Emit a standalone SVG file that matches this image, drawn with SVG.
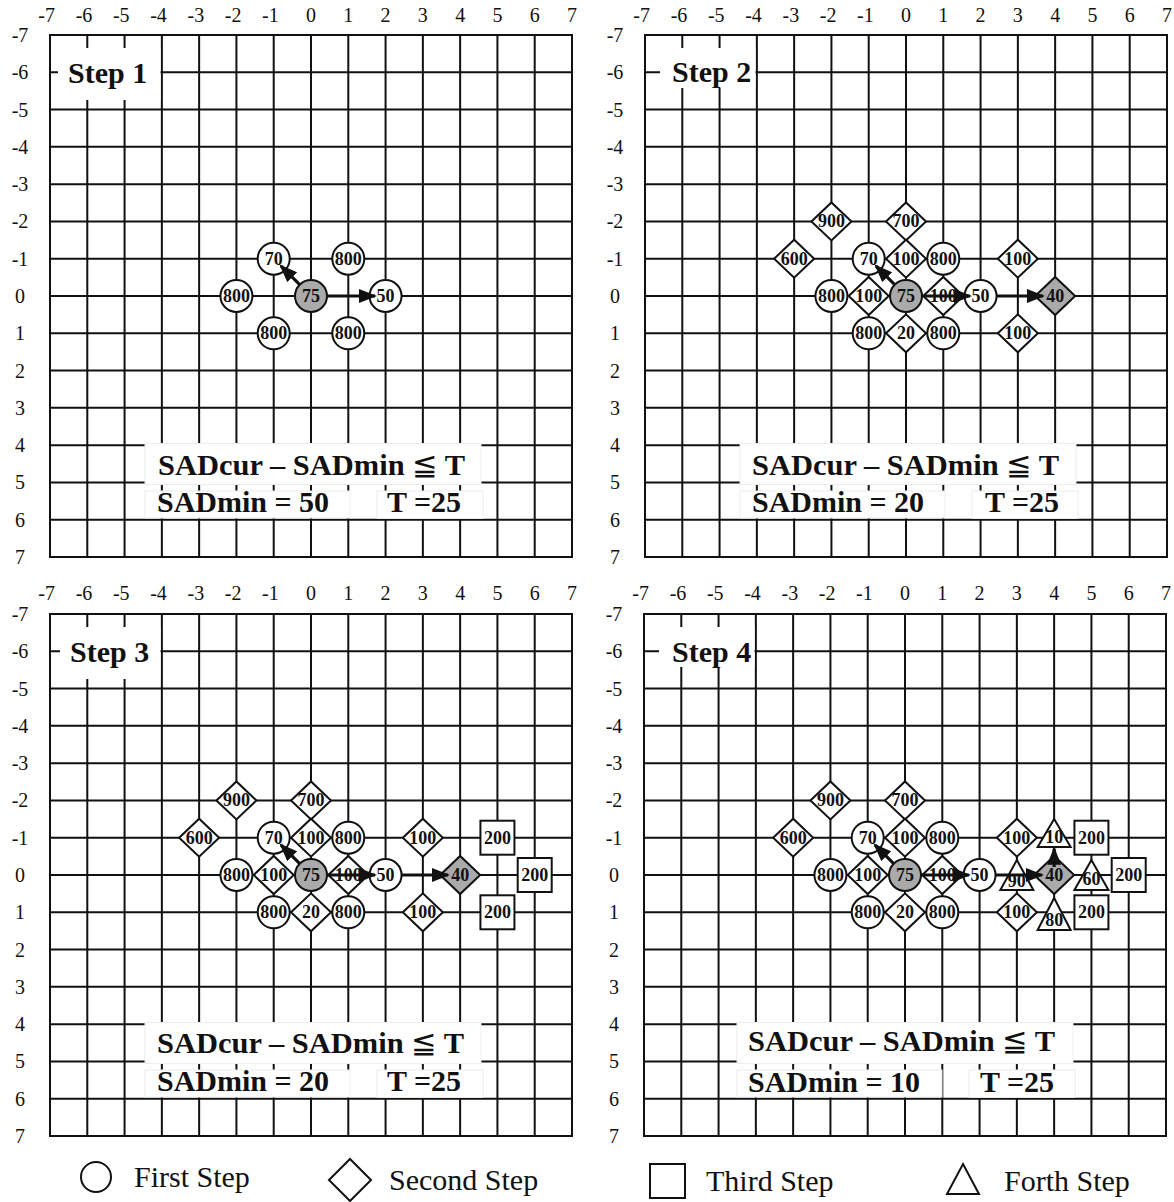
<svg xmlns="http://www.w3.org/2000/svg" xmlns:xlink="http://www.w3.org/1999/xlink" width="1174" height="1202" viewBox="0 0 1174 1202">
<style>
.gl{fill:none;stroke:#111;stroke-width:2}
.wb{fill:#fff;stroke:#ececec;stroke-width:1}
.wn{fill:#fff}
.ax{font-family:"Liberation Serif","Times New Roman",serif;font-size:20px;fill:#111}
.nd{fill:#fff;stroke:#111;stroke-width:2}
.gr{fill:#aaa}
.nt{font-family:"Liberation Serif","Times New Roman",serif;font-weight:bold;font-size:18px;text-anchor:middle;fill:#111}
.st{font-family:"Liberation Serif","Times New Roman",serif;font-weight:bold;font-size:30px;fill:#111}
.fm{font-family:"Liberation Serif","Times New Roman","DejaVu Serif",serif;font-weight:bold;font-size:30px;fill:#111}
.le{font-weight:normal}
.lg{font-family:"Liberation Serif","Times New Roman",serif;font-size:30px;fill:#111}
.ar{fill:none;stroke:#111;stroke-width:3.2;marker-end:url(#ah)}
</style>
<defs>
<marker id="ah" markerUnits="userSpaceOnUse" markerWidth="19" markerHeight="14" viewBox="0 0 19 14" refX="16" refY="7" orient="auto"><path d="M0,0L18,7L0,14Z" fill="#111"/></marker>
<g id="grid">
<rect class="gl" x="-261" y="-261" width="522" height="522"/>
<path class="gl" d="M-223.71-261V261M-186.43-261V261M-149.14-261V261M-111.86-261V261M-74.57-261V261M-37.29-261V261M0-261V261M37.29-261V261M74.57-261V261M111.86-261V261M149.14-261V261M186.43-261V261M223.71-261V261M-261-223.71H261M-261-186.43H261M-261-149.14H261M-261-111.86H261M-261-74.57H261M-261-37.29H261M-261 0H261M-261 37.29H261M-261 74.57H261M-261 111.86H261M-261 149.14H261M-261 186.43H261M-261 223.71H261"/>
</g>
</defs>
<rect width="1174" height="1202" fill="#fff"/>

<!-- Panel 1 -->
<g id="panel1" transform="translate(311,296)">
<use href="#grid" xlink:href="#grid"/>
<text class="ax" text-anchor="end" y="-274"><tspan x="-256">-7</tspan><tspan x="-218.71">-6</tspan><tspan x="-181.43">-5</tspan><tspan x="-144.14">-4</tspan><tspan x="-106.86">-3</tspan><tspan x="-69.57">-2</tspan><tspan x="-32.29">-1</tspan><tspan x="5">0</tspan><tspan x="42.29">1</tspan><tspan x="79.57">2</tspan><tspan x="116.86">3</tspan><tspan x="154.14">4</tspan><tspan x="191.43">5</tspan><tspan x="228.71">6</tspan><tspan x="266">7</tspan></text>
<text class="ax" text-anchor="middle"><tspan x="-291" y="-254">-7</tspan><tspan x="-291" y="-216.71">-6</tspan><tspan x="-291" y="-179.43">-5</tspan><tspan x="-291" y="-142.14">-4</tspan><tspan x="-291" y="-104.86">-3</tspan><tspan x="-291" y="-67.57">-2</tspan><tspan x="-291" y="-30.29">-1</tspan><tspan x="-291" y="7">0</tspan><tspan x="-291" y="44.29">1</tspan><tspan x="-291" y="81.57">2</tspan><tspan x="-291" y="118.86">3</tspan><tspan x="-291" y="156.14">4</tspan><tspan x="-291" y="193.43">5</tspan><tspan x="-291" y="230.71">6</tspan><tspan x="-291" y="268">7</tspan></text>
<g id="p1-title"><rect class="wn" x="-253" y="-248" width="102.5" height="52"/><text class="st" x="-243" y="-213">Step 1</text></g>
<g id="p1-formula">
<rect class="wb" x="-166" y="147.5" width="336" height="41"/>
<rect class="wb" x="-166" y="195" width="205" height="27"/>
<rect class="wb" x="66" y="195" width="106" height="27.5"/>
<text class="fm" x="-153" y="179" textLength="307" lengthAdjust="spacingAndGlyphs">SADcur – SADmin <tspan class="le">≦</tspan> T</text>
<text class="fm" x="-154" y="216">SADmin = 50</text>
<text class="fm" x="76" y="216">T =25</text>
</g>
<g id="p1-n_m1_m1" transform="translate(-37.29,-37.29)"><circle class="nd" r="16"/><text class="nt" y="6">70</text></g>
<g id="p1-n_1_m1" transform="translate(37.29,-37.29)"><circle class="nd" r="16"/><text class="nt" y="6">800</text></g>
<g id="p1-n_m2_0" transform="translate(-74.57,0)"><circle class="nd" r="16"/><text class="nt" y="6">800</text></g>
<g id="p1-n_0_0"><circle class="nd gr" r="16"/><text class="nt" y="6">75</text></g>
<g id="p1-n_2_0" transform="translate(74.57,0)"><circle class="nd" r="16"/><text class="nt" y="6">50</text></g>
<g id="p1-n_m1_1" transform="translate(-37.29,37.29)"><circle class="nd" r="16"/><text class="nt" y="6">800</text></g>
<g id="p1-n_1_1" transform="translate(37.29,37.29)"><circle class="nd" r="16"/><text class="nt" y="6">800</text></g>
</g>

<!-- Panel 2 -->
<g id="panel2" transform="translate(906,296)">
<use href="#grid" xlink:href="#grid"/>
<text class="ax" text-anchor="end" y="-274"><tspan x="-256">-7</tspan><tspan x="-218.71">-6</tspan><tspan x="-181.43">-5</tspan><tspan x="-144.14">-4</tspan><tspan x="-106.86">-3</tspan><tspan x="-69.57">-2</tspan><tspan x="-32.29">-1</tspan><tspan x="5">0</tspan><tspan x="42.29">1</tspan><tspan x="79.57">2</tspan><tspan x="116.86">3</tspan><tspan x="154.14">4</tspan><tspan x="191.43">5</tspan><tspan x="228.71">6</tspan><tspan x="266">7</tspan></text>
<text class="ax" text-anchor="middle"><tspan x="-291" y="-254">-7</tspan><tspan x="-291" y="-216.71">-6</tspan><tspan x="-291" y="-179.43">-5</tspan><tspan x="-291" y="-142.14">-4</tspan><tspan x="-291" y="-104.86">-3</tspan><tspan x="-291" y="-67.57">-2</tspan><tspan x="-291" y="-30.29">-1</tspan><tspan x="-291" y="7">0</tspan><tspan x="-291" y="44.29">1</tspan><tspan x="-291" y="81.57">2</tspan><tspan x="-291" y="118.86">3</tspan><tspan x="-291" y="156.14">4</tspan><tspan x="-291" y="193.43">5</tspan><tspan x="-291" y="230.71">6</tspan><tspan x="-291" y="268">7</tspan></text>
<g id="p2-title"><rect class="wn" x="-246" y="-248" width="95.5" height="40"/><text class="st" x="-234" y="-214">Step 2</text></g>
<g id="p2-formula">
<rect class="wb" x="-166" y="147.5" width="336" height="41"/>
<rect class="wb" x="-166" y="195" width="205" height="27"/>
<rect class="wb" x="66" y="195" width="106" height="27.5"/>
<text class="fm" x="-154" y="179" textLength="307" lengthAdjust="spacingAndGlyphs">SADcur – SADmin <tspan class="le">≦</tspan> T</text>
<text class="fm" x="-154" y="216">SADmin = 20</text>
<text class="fm" x="79" y="216">T =25</text>
</g>
<g id="p2-n_m2_m2" transform="translate(-74.57,-74.57)"><polygon class="nd" points="-20,0 0,-19 20,0 0,19"/><text class="nt" y="6">900</text></g>
<g id="p2-n_0_m2" transform="translate(0,-74.57)"><polygon class="nd" points="-20,0 0,-19 20,0 0,19"/><text class="nt" y="6">700</text></g>
<g id="p2-n_m3_m1" transform="translate(-111.86,-37.29)"><polygon class="nd" points="-20,0 0,-19 20,0 0,19"/><text class="nt" y="6">600</text></g>
<g id="p2-n_0_m1" transform="translate(0,-37.29)"><polygon class="nd" points="-20,0 0,-19 20,0 0,19"/><text class="nt" y="6">100</text></g>
<g id="p2-n_m1_0" transform="translate(-37.29,0)"><polygon class="nd" points="-20,0 0,-19 20,0 0,19"/><text class="nt" y="6">100</text></g>
<g id="p2-n_1_0" transform="translate(37.29,0)"><polygon class="nd" points="-20,0 0,-19 20,0 0,19"/><text class="nt" y="6">100</text></g>
<g id="p2-n_0_1" transform="translate(0,37.29)"><polygon class="nd" points="-20,0 0,-19 20,0 0,19"/><text class="nt" y="6">20</text></g>
<g id="p2-n_3_m1" transform="translate(111.86,-37.29)"><polygon class="nd" points="-20,0 0,-19 20,0 0,19"/><text class="nt" y="6">100</text></g>
<g id="p2-n_3_1" transform="translate(111.86,37.29)"><polygon class="nd" points="-20,0 0,-19 20,0 0,19"/><text class="nt" y="6">100</text></g>
<g id="p2-n_4_0" transform="translate(149.14,0)"><polygon class="nd gr" points="-20,0 0,-19 20,0 0,19"/><text class="nt" y="6">40</text></g>
<g id="p2-n_m1_m1" transform="translate(-37.29,-37.29)"><circle class="nd" r="16"/><text class="nt" y="6">70</text></g>
<g id="p2-n_1_m1" transform="translate(37.29,-37.29)"><circle class="nd" r="16"/><text class="nt" y="6">800</text></g>
<g id="p2-n_m2_0" transform="translate(-74.57,0)"><circle class="nd" r="16"/><text class="nt" y="6">800</text></g>
<g id="p2-n_0_0"><circle class="nd gr" r="16"/><text class="nt" y="6">75</text></g>
<g id="p2-n_2_0" transform="translate(74.57,0)"><circle class="nd" r="16"/><text class="nt" y="6">50</text></g>
<g id="p2-n_m1_1" transform="translate(-37.29,37.29)"><circle class="nd" r="16"/><text class="nt" y="6">800</text></g>
<g id="p2-n_1_1" transform="translate(37.29,37.29)"><circle class="nd" r="16"/><text class="nt" y="6">800</text></g>
</g>

<!-- Panel 3 -->
<g id="panel3" transform="translate(311,875)">
<use href="#grid" xlink:href="#grid"/>
<text class="ax" text-anchor="end" y="-275"><tspan x="-256">-7</tspan><tspan x="-218.71">-6</tspan><tspan x="-181.43">-5</tspan><tspan x="-144.14">-4</tspan><tspan x="-106.86">-3</tspan><tspan x="-69.57">-2</tspan><tspan x="-32.29">-1</tspan><tspan x="5">0</tspan><tspan x="42.29">1</tspan><tspan x="79.57">2</tspan><tspan x="116.86">3</tspan><tspan x="154.14">4</tspan><tspan x="191.43">5</tspan><tspan x="228.71">6</tspan><tspan x="266">7</tspan></text>
<text class="ax" text-anchor="middle"><tspan x="-291" y="-254">-7</tspan><tspan x="-291" y="-216.71">-6</tspan><tspan x="-291" y="-179.43">-5</tspan><tspan x="-291" y="-142.14">-4</tspan><tspan x="-291" y="-104.86">-3</tspan><tspan x="-291" y="-67.57">-2</tspan><tspan x="-291" y="-30.29">-1</tspan><tspan x="-291" y="7">0</tspan><tspan x="-291" y="44.29">1</tspan><tspan x="-291" y="81.57">2</tspan><tspan x="-291" y="118.86">3</tspan><tspan x="-291" y="156.14">4</tspan><tspan x="-291" y="193.43">5</tspan><tspan x="-291" y="230.71">6</tspan><tspan x="-291" y="268">7</tspan></text>
<g id="p3-title"><rect class="wn" x="-251" y="-248" width="100.5" height="52"/><text class="st" x="-241" y="-213">Step 3</text></g>
<g id="p3-formula">
<rect class="wb" x="-166" y="147.5" width="336" height="41"/>
<rect class="wb" x="-166" y="195" width="205" height="27"/>
<rect class="wb" x="66" y="195" width="106" height="27.5"/>
<text class="fm" x="-154" y="178" textLength="307" lengthAdjust="spacingAndGlyphs">SADcur – SADmin <tspan class="le">≦</tspan> T</text>
<text class="fm" x="-154" y="216">SADmin = 20</text>
<text class="fm" x="76" y="216">T =25</text>
</g>
<g id="p3-n_m2_m2" transform="translate(-74.57,-74.57)"><polygon class="nd" points="-20,0 0,-19 20,0 0,19"/><text class="nt" y="6">900</text></g>
<g id="p3-n_0_m2" transform="translate(0,-74.57)"><polygon class="nd" points="-20,0 0,-19 20,0 0,19"/><text class="nt" y="6">700</text></g>
<g id="p3-n_m3_m1" transform="translate(-111.86,-37.29)"><polygon class="nd" points="-20,0 0,-19 20,0 0,19"/><text class="nt" y="6">600</text></g>
<g id="p3-n_0_m1" transform="translate(0,-37.29)"><polygon class="nd" points="-20,0 0,-19 20,0 0,19"/><text class="nt" y="6">100</text></g>
<g id="p3-n_m1_0" transform="translate(-37.29,0)"><polygon class="nd" points="-20,0 0,-19 20,0 0,19"/><text class="nt" y="6">100</text></g>
<g id="p3-n_1_0" transform="translate(37.29,0)"><polygon class="nd" points="-20,0 0,-19 20,0 0,19"/><text class="nt" y="6">100</text></g>
<g id="p3-n_0_1" transform="translate(0,37.29)"><polygon class="nd" points="-20,0 0,-19 20,0 0,19"/><text class="nt" y="6">20</text></g>
<g id="p3-n_3_m1" transform="translate(111.86,-37.29)"><polygon class="nd" points="-20,0 0,-19 20,0 0,19"/><text class="nt" y="6">100</text></g>
<g id="p3-n_3_1" transform="translate(111.86,37.29)"><polygon class="nd" points="-20,0 0,-19 20,0 0,19"/><text class="nt" y="6">100</text></g>
<g id="p3-n_4_0" transform="translate(149.14,0)"><polygon class="nd gr" points="-20,0 0,-19 20,0 0,19"/><text class="nt" y="6">40</text></g>
<g id="p3-n_m1_m1" transform="translate(-37.29,-37.29)"><circle class="nd" r="16"/><text class="nt" y="6">70</text></g>
<g id="p3-n_1_m1" transform="translate(37.29,-37.29)"><circle class="nd" r="16"/><text class="nt" y="6">800</text></g>
<g id="p3-n_m2_0" transform="translate(-74.57,0)"><circle class="nd" r="16"/><text class="nt" y="6">800</text></g>
<g id="p3-n_0_0"><circle class="nd gr" r="16"/><text class="nt" y="6">75</text></g>
<g id="p3-n_2_0" transform="translate(74.57,0)"><circle class="nd" r="16"/><text class="nt" y="6">50</text></g>
<g id="p3-n_m1_1" transform="translate(-37.29,37.29)"><circle class="nd" r="16"/><text class="nt" y="6">800</text></g>
<g id="p3-n_1_1" transform="translate(37.29,37.29)"><circle class="nd" r="16"/><text class="nt" y="6">800</text></g>
<g id="p3-n_5_m1" transform="translate(186.43,-37.29)"><rect class="nd" x="-17" y="-17" width="34" height="34"/><text class="nt" y="6">200</text></g>
<g id="p3-n_6_0" transform="translate(223.71,0)"><rect class="nd" x="-17" y="-17" width="34" height="34"/><text class="nt" y="6">200</text></g>
<g id="p3-n_5_1" transform="translate(186.43,37.29)"><rect class="nd" x="-17" y="-17" width="34" height="34"/><text class="nt" y="6">200</text></g>
</g>

<!-- Panel 4 -->
<g id="panel4" transform="translate(905,875)">
<use href="#grid" xlink:href="#grid"/>
<text class="ax" text-anchor="end" y="-275"><tspan x="-256">-7</tspan><tspan x="-218.71">-6</tspan><tspan x="-181.43">-5</tspan><tspan x="-144.14">-4</tspan><tspan x="-106.86">-3</tspan><tspan x="-69.57">-2</tspan><tspan x="-32.29">-1</tspan><tspan x="5">0</tspan><tspan x="42.29">1</tspan><tspan x="79.57">2</tspan><tspan x="116.86">3</tspan><tspan x="154.14">4</tspan><tspan x="191.43">5</tspan><tspan x="228.71">6</tspan><tspan x="266">7</tspan></text>
<text class="ax" text-anchor="middle"><tspan x="-291" y="-254">-7</tspan><tspan x="-291" y="-216.71">-6</tspan><tspan x="-291" y="-179.43">-5</tspan><tspan x="-291" y="-142.14">-4</tspan><tspan x="-291" y="-104.86">-3</tspan><tspan x="-291" y="-67.57">-2</tspan><tspan x="-291" y="-30.29">-1</tspan><tspan x="-291" y="7">0</tspan><tspan x="-291" y="44.29">1</tspan><tspan x="-291" y="81.57">2</tspan><tspan x="-291" y="118.86">3</tspan><tspan x="-291" y="156.14">4</tspan><tspan x="-291" y="193.43">5</tspan><tspan x="-291" y="230.71">6</tspan><tspan x="-291" y="268">7</tspan></text>
<g id="p4-title"><rect class="wn" x="-246" y="-248" width="95.5" height="40"/><text class="st" x="-233" y="-213">Step 4</text></g>
<g id="p4-formula">
<rect class="wb" x="-168" y="147.5" width="336" height="41"/>
<rect class="wb" x="-168" y="195" width="205" height="27"/>
<rect class="wb" x="64" y="195" width="106" height="27.5"/>
<text class="fm" x="-157" y="176" textLength="307" lengthAdjust="spacingAndGlyphs">SADcur – SADmin <tspan class="le">≦</tspan> T</text>
<text class="fm" x="-157" y="217">SADmin = 10</text>
<text class="fm" x="75" y="217">T =25</text>
</g>
<g id="p4-n_m2_m2" transform="translate(-74.57,-74.57)"><polygon class="nd" points="-20,0 0,-19 20,0 0,19"/><text class="nt" y="6">900</text></g>
<g id="p4-n_0_m2" transform="translate(0,-74.57)"><polygon class="nd" points="-20,0 0,-19 20,0 0,19"/><text class="nt" y="6">700</text></g>
<g id="p4-n_m3_m1" transform="translate(-111.86,-37.29)"><polygon class="nd" points="-20,0 0,-19 20,0 0,19"/><text class="nt" y="6">600</text></g>
<g id="p4-n_0_m1" transform="translate(0,-37.29)"><polygon class="nd" points="-20,0 0,-19 20,0 0,19"/><text class="nt" y="6">100</text></g>
<g id="p4-n_m1_0" transform="translate(-37.29,0)"><polygon class="nd" points="-20,0 0,-19 20,0 0,19"/><text class="nt" y="6">100</text></g>
<g id="p4-n_1_0" transform="translate(37.29,0)"><polygon class="nd" points="-20,0 0,-19 20,0 0,19"/><text class="nt" y="6">100</text></g>
<g id="p4-n_0_1" transform="translate(0,37.29)"><polygon class="nd" points="-20,0 0,-19 20,0 0,19"/><text class="nt" y="6">20</text></g>
<g id="p4-n_3_m1" transform="translate(111.86,-37.29)"><polygon class="nd" points="-20,0 0,-19 20,0 0,19"/><text class="nt" y="6">100</text></g>
<g id="p4-n_3_1" transform="translate(111.86,37.29)"><polygon class="nd" points="-20,0 0,-19 20,0 0,19"/><text class="nt" y="6">100</text></g>
<g id="p4-n_4_0" transform="translate(149.14,0)"><polygon class="nd gr" points="-20,0 0,-19 20,0 0,19"/><text class="nt" y="6">40</text></g>
<g id="p4-n_m1_m1" transform="translate(-37.29,-37.29)"><circle class="nd" r="16"/><text class="nt" y="6">70</text></g>
<g id="p4-n_1_m1" transform="translate(37.29,-37.29)"><circle class="nd" r="16"/><text class="nt" y="6">800</text></g>
<g id="p4-n_m2_0" transform="translate(-74.57,0)"><circle class="nd" r="16"/><text class="nt" y="6">800</text></g>
<g id="p4-n_0_0"><circle class="nd gr" r="16"/><text class="nt" y="6">75</text></g>
<g id="p4-n_2_0" transform="translate(74.57,0)"><circle class="nd" r="16"/><text class="nt" y="6">50</text></g>
<g id="p4-n_m1_1" transform="translate(-37.29,37.29)"><circle class="nd" r="16"/><text class="nt" y="6">800</text></g>
<g id="p4-n_1_1" transform="translate(37.29,37.29)"><circle class="nd" r="16"/><text class="nt" y="6">800</text></g>
<g id="p4-n_5_m1" transform="translate(186.43,-37.29)"><rect class="nd" x="-17" y="-17" width="34" height="34"/><text class="nt" y="6">200</text></g>
<g id="p4-n_6_0" transform="translate(223.71,0)"><rect class="nd" x="-17" y="-17" width="34" height="34"/><text class="nt" y="6">200</text></g>
<g id="p4-n_5_1" transform="translate(186.43,37.29)"><rect class="nd" x="-17" y="-17" width="34" height="34"/><text class="nt" y="6">200</text></g>
<g id="p4-n_4_m1" transform="translate(149.14,-37.29)"><polygon class="nd" points="0,-18.7 16.5,9.3 -16.5,9.3"/><text class="nt" y="5.3">10</text></g>
<g id="p4-n_3_0" transform="translate(111.86,0)"><polygon class="nd" points="0,-15 16.5,15 -16.5,15"/><text class="nt" y="12">90</text></g>
<g id="p4-n_5_0" transform="translate(186.43,0)"><polygon class="nd" points="0,-15 17,15 -17,15"/><text class="nt" y="10">60</text></g>
<g id="p4-n_4_1" transform="translate(149.14,37.29)"><polygon class="nd" points="0,-14.3 16.5,17.7 -16.5,17.7"/><text class="nt" y="13.7">80</text></g>
</g>

<!-- Connectors -->
<g id="connectors">
<g transform="translate(311,296)">
<path class="ar" d="M-11.3,-11.3L-30.1,-30.1"/>
<path class="ar" d="M16,0H64"/>
</g>
<g transform="translate(906,296)">
<path class="ar" d="M-11.3,-11.3L-30.1,-30.1"/>
<path class="ar" d="M16,0H64"/>
<path class="ar" d="M90.6,0H137"/>
</g>
<g transform="translate(311,875)">
<path class="ar" d="M-11.3,-11.3L-30.1,-30.1"/>
<path class="ar" d="M16,0H64"/>
<path class="ar" d="M90.6,0H137"/>
</g>
<g transform="translate(905,875)">
<path class="ar" d="M-11.3,-11.3L-30.1,-30.1"/>
<path class="ar" d="M16,0H64"/>
<path class="ar" d="M90.6,0H137"/>
<path class="ar" d="M149.14,-8V-26.3"/>
</g>
</g>

<!-- Legend -->
<g id="legend">
<g id="lg-first"><circle class="nd" cx="96" cy="1177" r="15"/><text class="lg" x="134" y="1187">First Step</text></g>
<g id="lg-second"><polygon class="nd" points="329,1180 350,1159 371,1180 350,1201"/><text class="lg" x="389" y="1190">Second Step</text></g>
<g id="lg-third"><rect class="nd" x="650" y="1164" width="35" height="34"/><text class="lg" x="706" y="1191">Third Step</text></g>
<g id="lg-forth"><polygon class="nd" points="963,1164 979,1194 947,1194"/><text class="lg" x="1004" y="1191">Forth Step</text></g>
</g>
</svg>
